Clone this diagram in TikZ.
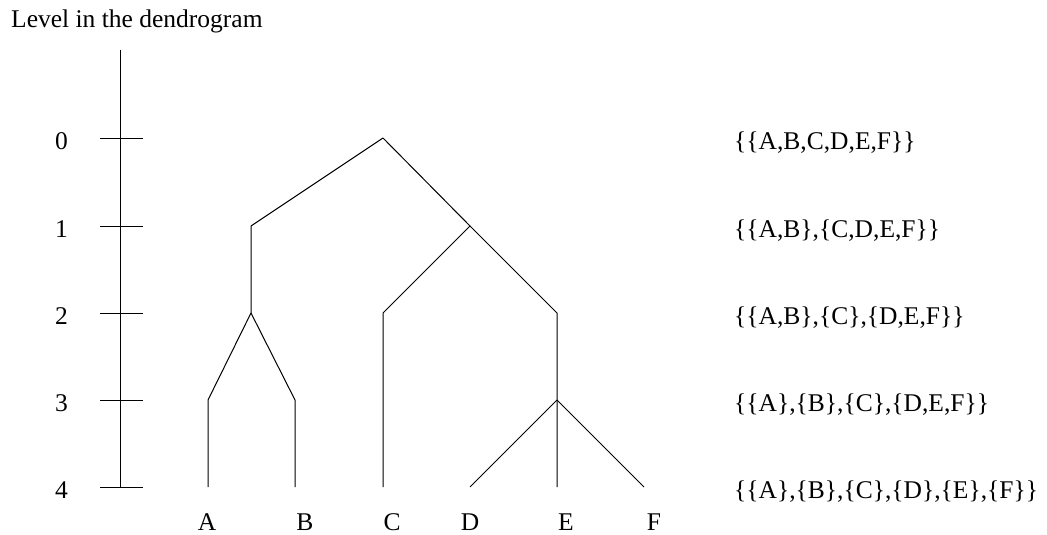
\documentclass[tikz,border=0pt]{standalone}
\usepackage{fontspec}
\setmainfont{Liberation Serif}
\begin{document}
\begin{tikzpicture}[x=1pt,y=-1pt,
  lbl/.style={font=\fontsize{25.5}{30}\selectfont, inner sep=0pt},
  link/.style={line width=1pt, black}]
\useasboundingbox (0,0) rectangle (1047,535);
% axis
\coordinate (atop) at (120,50);
\coordinate (abot) at (120,487);
\draw[link] (atop) -- (abot);
\foreach \i/\y in {0/138,1/226,2/313,3/400,4/487}{
  \coordinate (tl\i) at (100,\y);
  \coordinate (tr\i) at (143,\y);
  \draw[link] (tl\i) -- (tr\i);
  \node[lbl, anchor=base] (lev\i) at (61.5,\y+11.5) {\i};
}
\node[lbl, anchor=base west] (title) at (11,28) {Level in the dendrogram};
% junctions
\coordinate (root) at (383,138);
\coordinate (ab1) at (251,226);
\coordinate (ab2) at (251,313);
\coordinate (a3) at (208,400);
\coordinate (b3) at (295,400);
\coordinate (cdef) at (470,226);
\coordinate (c2) at (383,313);
\coordinate (def2) at (557,313);
\coordinate (def3) at (557,400);
\coordinate (a4) at (208,487);
\coordinate (b4) at (295,487);
\coordinate (c4) at (383,487);
\coordinate (d4) at (470,487);
\coordinate (e4) at (557,487);
\coordinate (f4) at (644,487);
\draw[link] (root) -- (ab1) -- (ab2) -- (a3) -- (a4);
\draw[link] (ab2) -- (b3) -- (b4);
\draw[link] (root) -- (cdef) -- (c2) -- (c4);
\draw[link] (cdef) -- (def2) -- (def3) -- (e4);
\draw[link] (def3) -- (d4);
\draw[link] (def3) -- (f4);
% leaf labels
\foreach \n/\x in {A/207,B/305,C/392,D/470,E/566,F/654}{
  \node[lbl, anchor=base] (leaf\n) at (\x,530) {\n};
}
% partitions
\node[lbl, anchor=base west] (p0) at (734,149) {\{\{A,B,C,D,E,F\}\}};
\node[lbl, anchor=base west] (p1) at (734,237) {\{\{A,B\},\{C,D,E,F\}\}};
\node[lbl, anchor=base west] (p2) at (734,324) {\{\{A,B\},\{C\},\{D,E,F\}\}};
\node[lbl, anchor=base west] (p3) at (734,411) {\{\{A\},\{B\},\{C\},\{D,E,F\}\}};
\node[lbl, anchor=base west] (p4) at (734,498) {\{\{A\},\{B\},\{C\},\{D\},\{E\},\{F\}\}};
\end{tikzpicture}
\end{document}
